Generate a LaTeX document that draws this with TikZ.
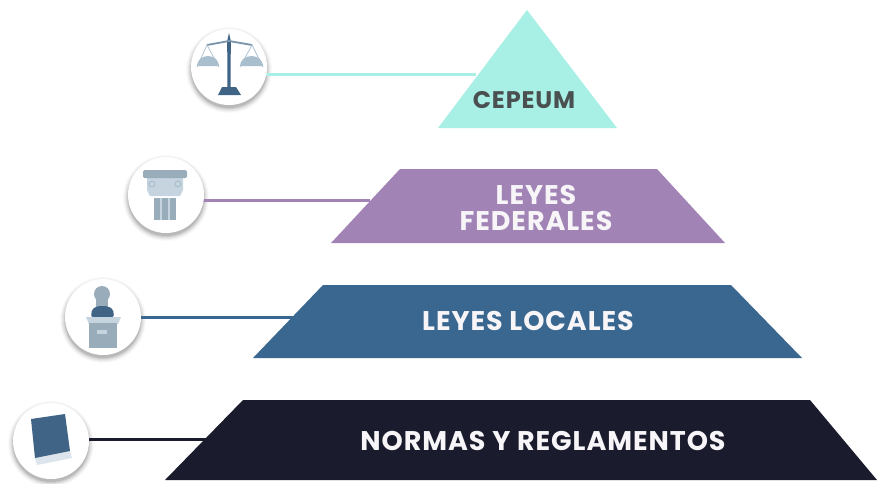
\documentclass[tikz,border=0pt]{standalone}
\usepackage{fontspec}
\setmainfont[LetterSpace=3.5]{Poppins}
\usetikzlibrary{backgrounds}
\definecolor{cTeal}{HTML}{A8EFE6}
\definecolor{cPurple}{HTML}{A184B5}
\definecolor{cBlue}{HTML}{3A678F}
\definecolor{cInk}{HTML}{1A1C2E}
\definecolor{cSlate}{HTML}{3F6485}
\definecolor{cMist}{HTML}{A9BFCE}
\definecolor{cPale}{HTML}{C5D4DE}
\definecolor{cLabel}{HTML}{4A4F50}
\definecolor{cWhite}{HTML}{F7F5F8}
\tikzset{
  x=1pt,y=-1pt,
  badge/.style={circle,fill=white,minimum size=76pt,inner sep=0pt,outer sep=0pt},
  tier/.style={font=\bfseries\fontsize{27}{26}\selectfont,text=cWhite,align=center,inner sep=0pt},
  link/.style={line width=3pt},
}
\newcommand{\halo}[1]{%
  \foreach \r/\o in {43/.02,42/.03,41/.04,40/.05,39/.07,38/.09}{
    \fill[black,opacity=\o] (#1)++(0,3) circle[radius=\r];
  }%
}
\begin{document}
\begin{tikzpicture}
\useasboundingbox (0,0) rectangle (877,483);

% tiers
\fill[cTeal] (527,10) -- (617,128) -- (438,128) -- cycle;
\fill[cPurple] (400,169) -- (657,169) -- (725,243) -- (331,243) -- cycle;
\fill[cBlue] (323,285) -- (731,285) -- (802,358) -- (253,358) -- cycle;
\fill[cInk] (243,400) -- (810,400) -- (877,480) -- (165,480) -- cycle;

\node[tier,text=cLabel,font=\bfseries\fontsize{24}{26}\selectfont] (t1) at (524,100) {CEPEUM};
\node[tier] (t2) at (536,208) {LEYES\\FEDERALES};
\node[tier] (t3) at (528,321) {LEYES LOCALES};
\node[tier] (t4) at (543,441) {NORMAS Y REGLAMENTOS};

% badges
\node[badge] (b1) at (229,67) {};
\node[badge] (b2) at (166,195) {};
\node[badge] (b3) at (103,317) {};
\node[badge] (b4) at (51,441) {};

\coordinate (e1) at (476,74);
\coordinate (e2) at (370,200);
\coordinate (e3) at (296,317);
\coordinate (e4) at (206,439);

\begin{scope}[on background layer]
  \fill[white] (0,0) rectangle (877,483);
  \halo{b1}\halo{b2}\halo{b3}\halo{b4}
  \draw[link,cTeal] (b1 |- e1) -- (e1);
  \draw[link,cPurple] (b2 |- e2) -- (e2);
  \draw[link,cBlue] (b3 |- e3) -- (e3);
  \draw[link,cInk] (b4 |- e4) -- (e4);
\end{scope}

% scales icon
\fill[cSlate] (227.2,41) -- (229,33) -- (230.8,41) -- (230.6,88) -- (227.4,88) -- cycle;
\fill[cSlate] (222,87) -- (236,87) -- (241,95) -- (218,95) -- cycle;
\draw[cSlate!70,line width=1.8pt] (207,45) -- (229,41) -- (252,45);
\draw[cMist,line width=.7pt] (197,67) -- (207,45) -- (219,67);
\draw[cMist,line width=.7pt] (240,67) -- (252,45) -- (263,67);
\fill[cMist] (197,66) -- (219,66) arc[start angle=0,end angle=180,x radius=11,y radius=-10] -- cycle;
\fill[cMist] (240,66) -- (263,66) arc[start angle=0,end angle=180,x radius=11.5,y radius=-10] -- cycle;

% column icon
\fill[cPale] (147,177) -- (183,177) -- (183,190) -- (180,196) -- (150,196) -- (147,190) -- cycle;
\fill[cMist!90!black,rounded corners=1.5pt] (143,170) rectangle (187,178);
\draw[cMist,line width=1pt] (152,184) circle[radius=3];
\draw[cMist,line width=1pt] (178,184) circle[radius=3];
\fill[cMist!90!black] (154,198) rectangle (176,220);
\foreach \g in {161,169}{\fill[cPale] (\g-.7,198) rectangle (\g+.7,220);}

% lectern icon
\fill[cMist!90!black] (102,294) circle[radius=8];
\fill[cMist!90!black] (96,298) rectangle (108,309);
\fill[cSlate,rounded corners=2pt] (91,317) -- (92,309) -- (98,306) -- (107,306) -- (113,309) -- (114,317) -- cycle;
\fill[cPale] (86,317) -- (121,317) -- (118,324) -- (89,324) -- cycle;
\fill[cMist!90!black] (89,323) rectangle (117,348);
\fill[cPale] (97,330) rectangle (107,334);

% book icon
\fill[cPale!60] (35,458) -- (70,451) -- (72,458) -- (37,465) -- cycle;
\fill[cSlate] (31,419) -- (65,414) -- (70,451) -- (35,458) -- cycle;
\end{tikzpicture}
\end{document}
